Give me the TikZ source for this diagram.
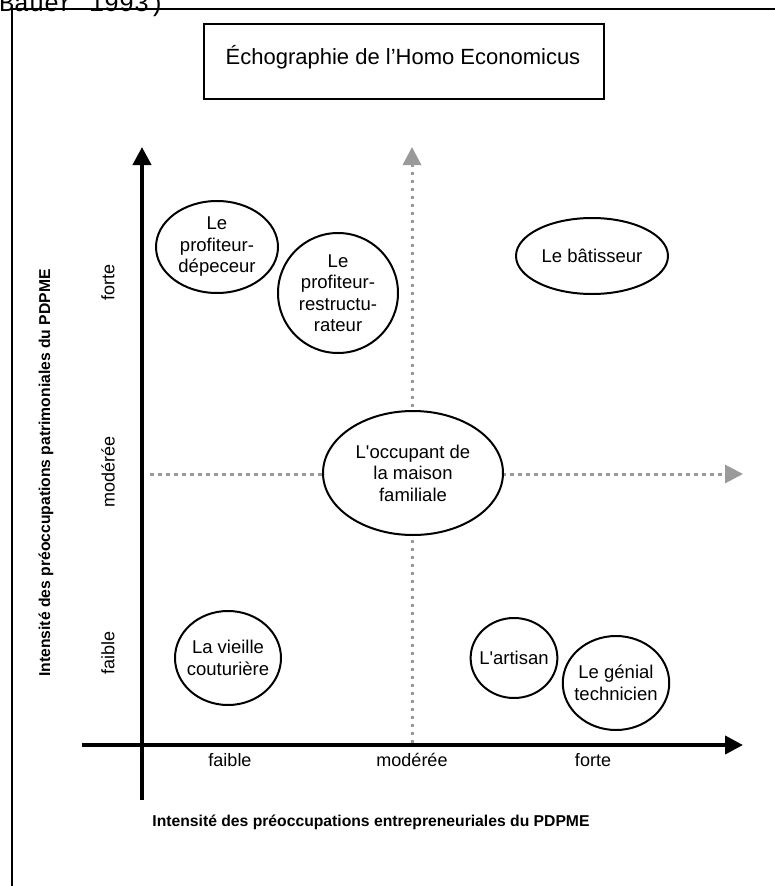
\documentclass[tikz,border=0pt]{standalone}
\usepackage{fontspec}
\setmainfont{Liberation Sans}
\newfontfamily\monofnt{Liberation Mono}
\usetikzlibrary{shapes.geometric,arrows.meta}
\definecolor{guidegray}{HTML}{9A9A9A}
\begin{document}
\begin{tikzpicture}[x=1pt,y=-1pt]
\tikzset{
  oval/.style={ellipse, draw, line width=2pt, fill=white, inner sep=-4pt, align=center,
    font=\fontsize{18.5}{21.5}\selectfont},
  axisline/.style={line width=4pt, -{Triangle[length=18pt,width=18pt]}},
  guide/.style={draw=guidegray, line width=3pt, dash pattern=on 3.5pt off 4.5pt,
    -{Triangle[length=18pt,width=18pt,color=guidegray,fill=guidegray]}},
  ticklabel/.style={font=\fontsize{18}{21}\selectfont, inner sep=0pt},
  axlabel/.style={font=\bfseries\fontsize{15.7}{19}\selectfont, inner sep=0pt},
}
\clip (0,0) rectangle (775,886);
\fill[white] (0,0) rectangle (775,886);
% outer frame
\draw[line width=1.5pt] (12,892) -- (12,9) -- (780,9);
\node[anchor=base west, inner sep=0pt, font=\monofnt\fontsize{25}{25}\selectfont] (src) at (-1,12) {Bauer 1993)};
% title
\node[draw, line width=1.5pt, minimum width=400pt, minimum height=75pt, inner sep=0pt, anchor=north west] (titlebox) at (203,23) {};
\node[font=\fontsize{22}{26}\selectfont, inner sep=0pt] (title) at (403,57) {Échographie de l’Homo Economicus};
% coordinates
\coordinate (yo) at (142,800);
\coordinate (ytip) at (142,147);
\coordinate (xo) at (82,745);
\coordinate (xtip) at (743,745);
\coordinate (vb) at (412,743);
\coordinate (vt) at (412,147);
\coordinate (hb) at (150,474);
\coordinate (ht) at (743,474);
% dotted guides
\draw[guide] (vb) -- (vt);
\draw[guide] (hb) -- (ht);
% ellipses
\node[oval, minimum width=122pt, minimum height=92pt] (dep) at (217,247) {Le\\profiteur-\\dépeceur};
\node[oval, minimum width=120pt, minimum height=120pt] (res) at (338,293) {Le\\profiteur-\\restructu-\\rateur};
\node[oval, minimum width=152pt, minimum height=76pt] (bat) at (592,256) {Le bâtisseur};
\node[oval, minimum width=180pt, minimum height=124pt] (occ) at (413,473) {L\textquotesingle occupant de\\la maison\\familiale};
\node[oval, minimum width=106pt, minimum height=94pt] (cou) at (228,658) {La vieille\\couturière};
\node[oval, minimum width=80pt, minimum height=80pt] (art) at (514,658) {L\textquotesingle artisan};
\node[oval, minimum width=106pt, minimum height=94pt] (gen) at (616,683) {Le génial\\technicien};
% axes
\draw[axisline] (yo) -- (ytip);
\draw[axisline] (xo) -- (xtip);
% tick labels
\node[ticklabel] (xf) at (230,760) {faible};
\node[ticklabel] (xm) at (412,760) {modérée};
\node[ticklabel] (xs) at (593,760) {forte};
\node[ticklabel, rotate=90] (ys) at (108,282) {forte};
\node[ticklabel, rotate=90] (ym) at (108,472) {modérée};
\node[ticklabel, rotate=90] (yf) at (108,653) {faible};
% axis labels
\node[axlabel] (xlab) at (371,822) {Intensité des préoccupations entrepreneuriales du PDPME};
\node[axlabel, rotate=90] (ylab) at (46,473) {Intensité des préoccupations patrimoniales du PDPME};
\end{tikzpicture}
\end{document}
